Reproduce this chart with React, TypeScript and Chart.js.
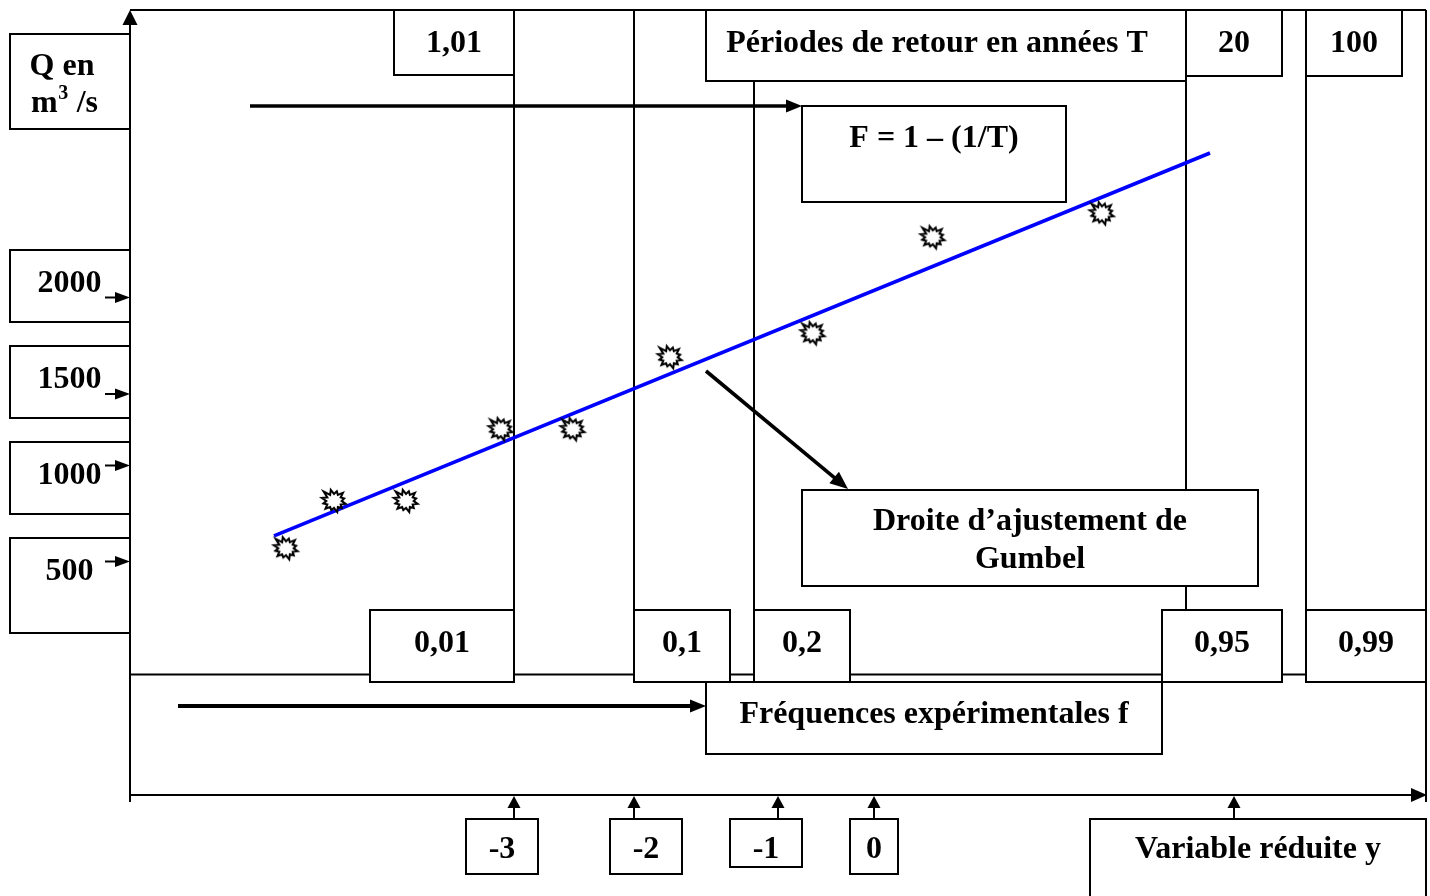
import React, { useEffect, useRef } from 'react';
import { Chart, registerables } from 'chart.js';

Chart.register(...registerables);

// ---- Data (reduced Gumbel variable y, discharge Q in m3/s) ----
const reducedVariable = [-4.9, -4.5, -3.9, -3.11, -2.51, -1.7, -0.51, 0.49, 1.9];
const discharge = [561, 832, 832, 1242, 1242, 1654, 1791, 2340, 2477];
const fitLineX = [-5.0, 2.8];
const fitLineQ = [632, 2822];

// ---- Tick / label texts ----
const dischargeLabels = ['2000', '1500', '1000', '500'];
const returnPeriodLabels = ['1,01', '20', '100'];
const frequencyLabels = ['0,01', '0,1', '0,2', '0,95', '0,99'];
const reducedTickLabels = ['-3', '-2', '-1', '0'];
const yAxisTitle = ['Q en', 'm', '3', ' /s'];
const periodTitle = 'Périodes de retour en années T';
const formulaText = 'F = 1 – (1/T)';
const fitTitle = ['Droite d’ajustement de', 'Gumbel'];
const frequencyTitle = 'Fréquences expérimentales f';
const reducedTitle = 'Variable réduite y';

// ---- Layout of the schematic annotations (pixels) ----
const dischargeBoxes = [
  { y: 250, h: 72, arrowDy: 47.5 },
  { y: 346, h: 72, arrowDy: 48 },
  { y: 442, h: 72, arrowDy: 23.5 },
  { y: 538, h: 95, arrowDy: 23.5 },
];
const periodBoxes = [
  { x1: 394, x2: 514, y2: 75 },
  { x1: 1186, x2: 1282, y2: 76 },
  { x1: 1306, x2: 1402, y2: 76 },
];
const frequencyBoxes = [
  { x1: 370, x2: 514 },
  { x1: 634, x2: 730 },
  { x1: 754, x2: 850 },
  { x1: 1162, x2: 1282 },
  { x1: 1306, x2: 1426 },
];
const reducedBoxes = [
  { x1: 466, x2: 538, y2: 874, ax: 514 },
  { x1: 610, x2: 682, y2: 874, ax: 634 },
  { x1: 730, x2: 802, y2: 867, ax: 778 },
  { x1: 850, x2: 898, y2: 874, ax: 874 },
];
const verticalRules = [
  { x: 514, y1: 10, y2: 682 },
  { x: 634, y1: 10, y2: 682 },
  { x: 754, y1: 81, y2: 682 },
  { x: 1186, y1: 10, y2: 610 },
  { x: 1306, y1: 10, y2: 682 },
];

const FONT = '"Liberation Serif", "Times New Roman", serif';

function makeStar(): HTMLCanvasElement {
  const c = document.createElement('canvas');
  c.width = 32;
  c.height = 32;
  const g = c.getContext('2d')!;
  const outer = [12, 10.5, 12, 10, 11.5, 10.5, 12, 10, 11.5, 10.5, 12, 14];
  const inner = 7;
  const n = outer.length;
  const start = (-105 * Math.PI) / 180;
  g.beginPath();
  for (let i = 0; i < n; i++) {
    const a = start + (i * 2 * Math.PI) / n;
    const a2 = a + Math.PI / n;
    const px = 16 + Math.cos(a) * outer[i] * 1.05;
    const py = 16 + Math.sin(a) * outer[i] * 0.95;
    if (i === 0) g.moveTo(px, py);
    else g.lineTo(px, py);
    g.lineTo(16 + Math.cos(a2) * inner * 1.1, 16 + Math.sin(a2) * inner);
  }
  g.closePath();
  g.fillStyle = '#ffffff';
  g.fill();
  g.lineWidth = 2;
  g.strokeStyle = '#000000';
  g.lineJoin = 'miter';
  g.stroke();
  return c;
}

function line(ctx: CanvasRenderingContext2D, x1: number, y1: number, x2: number, y2: number, lw = 2) {
  ctx.save();
  ctx.lineWidth = lw;
  ctx.strokeStyle = '#000';
  ctx.beginPath();
  ctx.moveTo(x1, y1);
  ctx.lineTo(x2, y2);
  ctx.stroke();
  ctx.restore();
}

function arrow(
  ctx: CanvasRenderingContext2D,
  x1: number, y1: number, x2: number, y2: number,
  lw: number, headLen: number, headHalf: number,
) {
  const dx = x2 - x1;
  const dy = y2 - y1;
  const len = Math.hypot(dx, dy);
  const ux = dx / len;
  const uy = dy / len;
  const bx = x2 - ux * headLen;
  const by = y2 - uy * headLen;
  line(ctx, x1, y1, bx + ux * 1, by + uy * 1, lw);
  ctx.save();
  ctx.fillStyle = '#000';
  ctx.beginPath();
  ctx.moveTo(x2, y2);
  ctx.lineTo(bx - uy * headHalf, by + ux * headHalf);
  ctx.lineTo(bx + uy * headHalf, by - ux * headHalf);
  ctx.closePath();
  ctx.fill();
  ctx.restore();
}

function box(ctx: CanvasRenderingContext2D, x1: number, y1: number, x2: number, y2: number) {
  ctx.save();
  ctx.fillStyle = '#fff';
  ctx.fillRect(x1, y1, x2 - x1, y2 - y1);
  ctx.lineWidth = 2;
  ctx.strokeStyle = '#000';
  ctx.strokeRect(x1, y1, x2 - x1, y2 - y1);
  ctx.restore();
}

function text(ctx: CanvasRenderingContext2D, s: string, cx: number, base: number, size = 32, align: CanvasTextAlign = 'center') {
  ctx.save();
  ctx.font = `bold ${size}px ${FONT}`;
  ctx.fillStyle = '#000';
  ctx.textAlign = align;
  ctx.textBaseline = 'alphabetic';
  ctx.fillText(s, cx, base);
  ctx.restore();
}

const schematicPlugin = {
  id: 'schematic',
  beforeDatasetsDraw(chart: any) {
    const ctx: CanvasRenderingContext2D = chart.ctx;
    const { left, right, top, bottom } = chart.chartArea;

    // frame, axes and rules
    line(ctx, left, top, right, top);
    line(ctx, right, top, right, bottom + 7);
    line(ctx, left, top + 14, left, bottom + 7);
    arrow(ctx, left, top + 20, left, top, 2, 15, 7.5);
    line(ctx, left, 674.5, right, 674.5);
    verticalRules.forEach((r) => line(ctx, r.x, r.y1, r.x, r.y2));
    arrow(ctx, left, bottom, right + 1, bottom, 2, 16, 7);

    // y-axis title
    box(ctx, 10, 34, left, 129);
    text(ctx, yAxisTitle[0], 62, 75);
    ctx.save();
    ctx.font = `bold 32px ${FONT}`;
    const mW = ctx.measureText(yAxisTitle[1]).width;
    ctx.font = `bold 20px ${FONT}`;
    const supW = ctx.measureText(yAxisTitle[2]).width;
    ctx.restore();
    const mx = 31;
    text(ctx, yAxisTitle[1], mx, 112, 32, 'left');
    text(ctx, yAxisTitle[2], mx + mW + 0.5, 99, 20, 'left');
    text(ctx, yAxisTitle[3], mx + mW + supW + 1, 112, 32, 'left');

    // discharge label boxes
    dischargeBoxes.forEach((b, i) => {
      box(ctx, 10, b.y, left, b.y + b.h);
      text(ctx, dischargeLabels[i], 69.5, b.y + 41.5);
      arrow(ctx, 105, b.y + b.arrowDy, left, b.y + b.arrowDy, 2, 15, 5.5);
    });

    // return periods
    box(ctx, 706, top, 1186, 81);
    text(ctx, periodTitle, 937, 52);
    periodBoxes.forEach((b, i) => {
      box(ctx, b.x1, top, b.x2, b.y2);
      text(ctx, returnPeriodLabels[i], (b.x1 + b.x2) / 2, 52);
    });

    // formula
    box(ctx, 802, 106, 1066, 202);
    text(ctx, formulaText, 934, 147);

    // Gumbel fit label
    box(ctx, 802, 490, 1258, 586);
    text(ctx, fitTitle[0], 1030, 530);
    text(ctx, fitTitle[1], 1030, 568);

    // frequency boxes
    frequencyBoxes.forEach((b, i) => {
      box(ctx, b.x1, 610, b.x2, 682);
      text(ctx, frequencyLabels[i], (b.x1 + b.x2) / 2, 652);
    });
    box(ctx, 706, 682, 1162, 754);
    text(ctx, frequencyTitle, 934, 723);

    // reduced variable boxes
    reducedBoxes.forEach((b, i) => {
      box(ctx, b.x1, 819, b.x2, b.y2);
      text(ctx, reducedTickLabels[i], (b.x1 + b.x2) / 2, 858);
      arrow(ctx, b.ax, 819, b.ax, bottom + 1, 2, 12, 6.5);
    });
    box(ctx, 1090, 819, right, 905);
    text(ctx, reducedTitle, 1258, 858);
    arrow(ctx, 1234, 819, 1234, bottom + 1, 2, 12, 6.5);

    // pointer arrows
    arrow(ctx, 250, 106, 802, 106, 3.6, 16, 6.5);
    arrow(ctx, 178, 706, 706, 706, 3.8, 16, 6.5);
    arrow(ctx, 706, 371, 848, 489, 3.6, 18, 7.5);
  },
};

export default function App() {
  const ref = useRef<HTMLCanvasElement>(null);

  useEffect(() => {
    if (!ref.current) return;
    const star = makeStar();
    const chart = new Chart(ref.current, {
      type: 'scatter',
      data: {
        datasets: [
          {
            label: 'Droite d’ajustement de Gumbel',
            data: fitLineX.map((x, i) => ({ x, y: fitLineQ[i] })),
            showLine: true,
            borderColor: '#0000ff',
            borderWidth: 3.6,
            pointRadius: 0,
            pointHoverRadius: 0,
            order: 1,
          },
          {
            label: 'Débits observés',
            data: reducedVariable.map((x, i) => ({ x, y: discharge[i] })),
            showLine: false,
            pointStyle: star as any,
            pointRadius: 0.5,
            pointHoverRadius: 0.5,
            pointBorderWidth: 0,
            order: 0,
          },
        ],
      },
      options: {
        animation: false,
        responsive: false,
        events: [],
        layout: { padding: { left: 130, right: 4, top: 10, bottom: 101 } },
        plugins: { legend: { display: false }, tooltip: { enabled: false } },
        scales: {
          x: { type: 'linear', display: false, min: -6.2, max: 4.6 },
          y: { type: 'linear', display: false, min: -850, max: 3640 },
        },
      },
      plugins: [schematicPlugin],
    });
    return () => chart.destroy();
  }, []);

  return (
    <div style={{ position: 'fixed', left: 0, top: 0, width: 1430, height: 896, background: '#fff' }}>
      <canvas ref={ref} width={1430} height={896} style={{ display: 'block' }} />
    </div>
  );
}
